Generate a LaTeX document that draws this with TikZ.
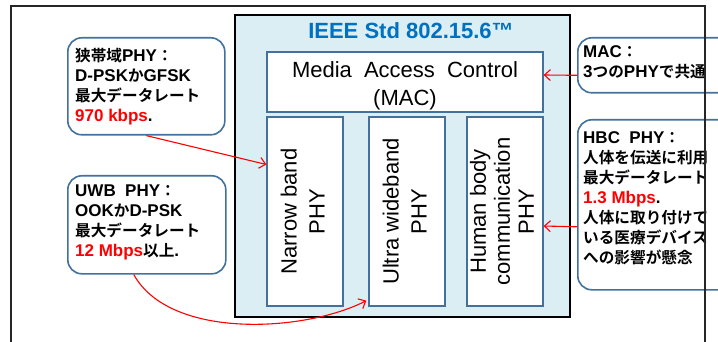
\documentclass[tikz,border=0pt]{standalone}
\usepackage{fontspec}
\usepackage{graphicx}
\setmainfont{Liberation Sans}
\newfontfamily\jpfont{Noto Sans CJK JP}[Scale=0.92,BoldFont=* Bold]
\usetikzlibrary{arrows.meta}
\definecolor{ieeeblue}{HTML}{0070C0}
\definecolor{stdfill}{HTML}{DAEEF3}
\definecolor{boxline}{HTML}{41719C}
\newcommand\ja[1]{{\jpfont #1}}
\tikzset{
  layer/.style={draw=boxline, line width=1.3pt, fill=white, inner sep=0pt},
  note/.style={draw=boxline, line width=1.6pt, fill=white, rounded corners=14pt, anchor=north west},
  notetext/.style={anchor=north west, align=left, inner sep=0pt,
    font=\fontsize{17}{20}\selectfont\bfseries},
  link/.style={red, line width=1.1pt, -{Straight Barb[length=6pt,width=11pt]}},
}
\begin{document}
\begin{tikzpicture}[x=1pt,y=-1pt]
\useasboundingbox (0,0) rectangle (718,342);

\node[draw, line width=1.6pt, fill=stdfill, minimum width=335pt, minimum height=302pt] (std) at (402.5,166) {};
\node[font=\fontsize{22}{26}\selectfont\bfseries, text=ieeeblue] (title) at (411,31) {IEEE Std 802.15.6™};

\node[layer, minimum width=276pt, minimum height=60pt, font=\fontsize{22}{28}\selectfont] (mac) at (405,82)
  {\raisebox{-4pt}[\height][\depth]{\begin{tabular}{@{}c@{}}Media\hspace{.55em}Access\hspace{.55em}Control\\(MAC)\end{tabular}}};
\node[layer, minimum width=76pt, minimum height=189pt, font=\fontsize{22}{28}\selectfont] (nar) at (305,211.5)
  {\rotatebox{90}{\begin{tabular}{@{}c@{}}Narrow band\\PHY\end{tabular}}};
\node[layer, minimum width=76pt, minimum height=189pt, font=\fontsize{22}{28}\selectfont] (uwb) at (407,211.5)
  {\rotatebox{90}{\begin{tabular}{@{}c@{}}Ultra wideband\\PHY\end{tabular}}};
\node[layer, minimum width=76pt, minimum height=189pt, font=\fontsize{22}{24}\selectfont] (hbc) at (505,211.5)
  {\rotatebox{90}{\begin{tabular}{@{}c@{}}Human body\\communication\\PHY\end{tabular}}};

\node[note, minimum width=157pt, minimum height=97pt] (nbnote) at (67,37) {};
\node[notetext] (nbtext) at ([shift={(8pt,-11pt)}]nbnote.north west)
  {\ja{狭帯域}PHY\ja{：}\\D-PSK\ja{か}GFSK\\\ja{最大データレート}\\\textcolor{red}{970 kbps}.};

\node[note, minimum width=158pt, minimum height=98pt] (uwbnote) at (67,175) {};
\node[notetext] (uwbtext) at ([shift={(8pt,-10pt)}]uwbnote.north west)
  {UWB\ \ PHY\ja{：}\\OOK\ja{か}D-PSK\\\ja{最大データレート}\\\textcolor{red}{12 Mbps}\ja{以上}.};

\node[note, minimum width=160pt, minimum height=55pt] (macnote) at (577,37) {};
\node[notetext] (mactext) at ([shift={(6pt,-8pt)}]macnote.north west)
  {MAC\ja{：}\\3\ja{つの}PHY\ja{で共通}};

\node[note, minimum width=160pt, minimum height=170pt] (hbcnote) at (577,119) {};
\node[notetext] (hbctext) at ([shift={(6pt,-12pt)}]hbcnote.north west)
  {HBC\ \ PHY\ja{：}\\\ja{人体を伝送に利用}\\\ja{最大データレート}\\\textcolor{red}{1.3 Mbps}.\\
   \ja{人体に取り付けて}\\\ja{いる医療デバイス}\\\ja{への影響が懸念}};

\draw[link] (nbnote.south) -- ([yshift=47pt]nar.west);
\draw[link] ([xshift=-13pt]uwbnote.south) .. controls (170,340) and (305,332) .. ([shift={(-2pt,6pt)}]uwb.south west);
\draw[link] ([yshift=-10pt]macnote.west) -- ([yshift=7pt]mac.east);
\draw[link] ([yshift=-22pt]hbcnote.west) -- ([yshift=-14.5pt]hbc.east);

\draw[line width=2pt, black!85] (11,360) -- (11,6) -- (705,6) -- (705,360);
\end{tikzpicture}
\end{document}
